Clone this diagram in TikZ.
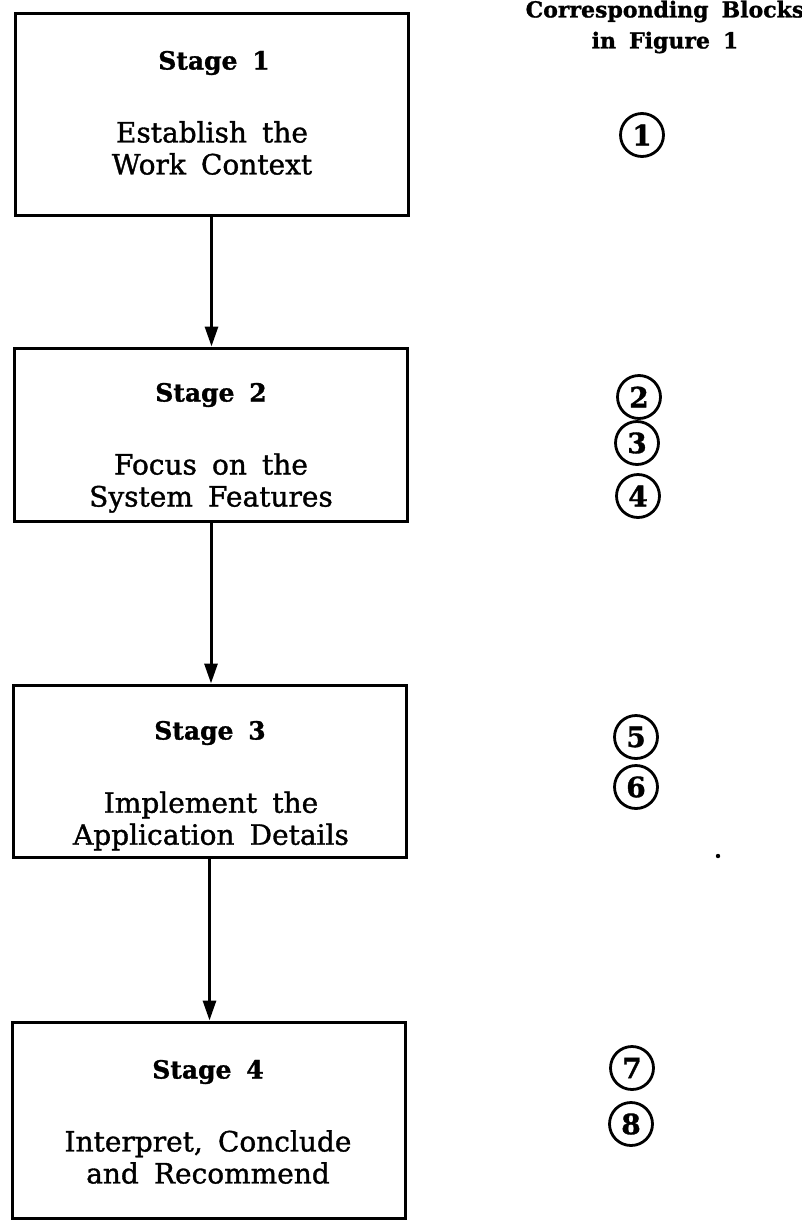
\documentclass[tikz,border=0pt]{standalone}
\usepackage{fontspec}
\setmainfont[WordSpace=1.7, FakeBold=1.2]{DejaVu Serif}
\usetikzlibrary{arrows.meta}
\begin{document}
\begin{tikzpicture}[x=1pt,y=-1pt,
  stagebox/.style={draw, line width=3pt, minimum width=393pt, inner sep=0pt},
  title/.style={font=\fontsize{25}{28}\selectfont\bfseries, inner sep=0pt},
  desc/.style={font=\fontsize{28}{32}\selectfont, align=center, inner sep=0pt},
  ref/.style={draw, circle, line width=2.8pt, minimum size=43pt, inner sep=0pt, font=\fontsize{28}{28}\selectfont\bfseries},
  head/.style={font=\fontsize{22}{31}\selectfont\bfseries, align=center, inner sep=0pt},
  arr/.style={line width=3pt, -{Triangle[length=20pt,width=13pt]}}]
\useasboundingbox (0,0) rectangle (802,1221);
\fill[white] (0,0) rectangle (802,1221);

% boxes
\node[stagebox, minimum height=202pt] (b1) at (211.5,114) {};
\node[stagebox, minimum height=173pt] (b2) at (211,434.5) {};
\node[stagebox, minimum height=172pt] (b3) at (209.5,771) {};
\node[stagebox, minimum height=196pt] (b4) at (208.5,1120) {};

% box texts
\node[title] (t1) at (214,63) {Stage 1};
\node[desc] (d1) at (212,148) {Establish the\\Work Context};
\node[title] (t2) at (211,395) {Stage 2};
\node[desc] (d2) at (211,483) {Focus on the\\System Features};
\node[title] (t3) at (210,733) {Stage 3};
\node[desc] (d3) at (211,821) {Implement the\\Application Details};
\node[title] (t4) at (208,1072) {Stage 4};
\node[desc] (d4) at (208,1157) {Interpret, Conclude\\and Recommend};

% connectors
\draw[arr] (b1.south) -- (b1.south |- b2.north);
\draw[arr] (b2.south) -- (b2.south |- b3.north);
\draw[arr] (b3.south) -- (b3.south |- b4.north);

% header
\node[head] (hd) at (665,27) {Corresponding Blocks\\in Figure 1};

% reference circles
\node[ref] (c1) at (642,135) {1};
\node[ref] (c2) at (639,397) {2};
\node[ref] (c3) at (637,443) {3};
\node[ref] (c4) at (638,496) {4};
\node[ref] (c5) at (636,737) {5};
\node[ref] (c6) at (636,787) {6};
\node[ref] (c7) at (632,1068) {7};
\node[ref] (c8) at (631,1124) {8};

% stray dot
\fill (718,856) circle (2.2pt);
\end{tikzpicture}
\end{document}
